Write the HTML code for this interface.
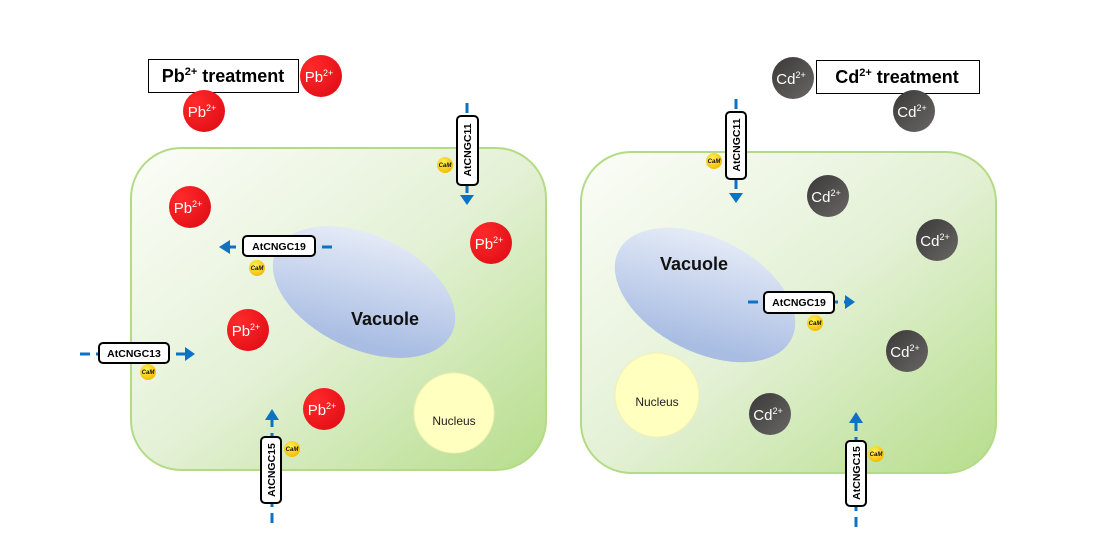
<!DOCTYPE html>
<html><head><meta charset="utf-8"><style>
html,body{margin:0;padding:0;background:#fff;}
svg{display:block;font-family:"Liberation Sans",Arial,sans-serif;}
</style></head><body>
<svg width="1100" height="560" viewBox="0 0 1100 560" xmlns="http://www.w3.org/2000/svg">
<defs>
<linearGradient id="cell" x1="0" y1="0" x2="1" y2="1">
<stop offset="0" stop-color="#fbfdf8"/><stop offset="0.5" stop-color="#e4f1d6"/><stop offset="1" stop-color="#b6dd8b"/></linearGradient>
<linearGradient id="vac" x1="0" y1="0" x2="0.4" y2="1">
<stop offset="0" stop-color="#eef2fa"/><stop offset="1" stop-color="#a9bde3"/></linearGradient>
<radialGradient id="pb" cx="0.3" cy="0.3" r="0.8">
<stop offset="0" stop-color="#ff2a2a"/><stop offset="1" stop-color="#e10f17"/></radialGradient>
<linearGradient id="cd" x1="0" y1="0" x2="1" y2="1">
<stop offset="0" stop-color="#3a3838"/><stop offset="1" stop-color="#6a6666"/></linearGradient>
<radialGradient id="cam" cx="0.4" cy="0.35" r="0.7">
<stop offset="0" stop-color="#fff25a"/><stop offset="1" stop-color="#f4b800"/></radialGradient>
</defs>

<!-- cells -->
<rect x="131" y="148" width="415" height="322" rx="50" fill="url(#cell)" stroke="#b3db86" stroke-width="2"/>
<rect x="581" y="152" width="415" height="321" rx="50" fill="url(#cell)" stroke="#b3db86" stroke-width="2"/>

<!-- vacuoles -->
<ellipse cx="364" cy="292" rx="97" ry="57" transform="rotate(25 364 292)" fill="url(#vac)"/>
<text x="385" y="325" font-size="18" font-weight="bold" text-anchor="middle" fill="#111">Vacuole</text>
<ellipse cx="705" cy="295" rx="97" ry="57" transform="rotate(27 705 295)" fill="url(#vac)"/>
<text x="694" y="270" font-size="18" font-weight="bold" text-anchor="middle" fill="#111">Vacuole</text>

<!-- nuclei -->
<circle cx="454" cy="413" r="40" fill="#ffffc0" stroke="#f2f0b0"/>
<text x="454" y="425" font-size="12" text-anchor="middle" fill="#222">Nucleus</text>
<circle cx="657" cy="395" r="42" fill="#ffffc0" stroke="#f2f0b0"/>
<text x="657" y="406" font-size="12" text-anchor="middle" fill="#222">Nucleus</text>

<!-- treatment labels -->
<rect x="148.5" y="59.5" width="150" height="33" fill="#fff" stroke="#000"/>
<text x="223" y="82" font-size="18" font-weight="bold" text-anchor="middle">Pb<tspan font-size="11" dy="-7">2+</tspan><tspan dy="7"> treatment</tspan></text>
<rect x="816.5" y="60.5" width="163" height="33" fill="#fff" stroke="#000"/>
<text x="897" y="83" font-size="18" font-weight="bold" text-anchor="middle">Cd<tspan font-size="11" dy="-7">2+</tspan><tspan dy="7">  treatment</tspan></text>

<!-- Pb ions -->
<g font-size="15" fill="#fff" text-anchor="middle">
<g><circle cx="321" cy="76" r="21" fill="url(#pb)"/><text x="319" y="82">Pb<tspan font-size="9" dy="-6">2+</tspan></text></g>
<g><circle cx="204" cy="111" r="21" fill="url(#pb)"/><text x="202" y="117">Pb<tspan font-size="9" dy="-6">2+</tspan></text></g>
<g><circle cx="190" cy="207" r="21" fill="url(#pb)"/><text x="188" y="213">Pb<tspan font-size="9" dy="-6">2+</tspan></text></g>
<g><circle cx="491" cy="243" r="21" fill="url(#pb)"/><text x="489" y="249">Pb<tspan font-size="9" dy="-6">2+</tspan></text></g>
<g><circle cx="248" cy="330" r="21" fill="url(#pb)"/><text x="246" y="336">Pb<tspan font-size="9" dy="-6">2+</tspan></text></g>
<g><circle cx="324" cy="409" r="21" fill="url(#pb)"/><text x="322" y="415">Pb<tspan font-size="9" dy="-6">2+</tspan></text></g>
</g>
<!-- Cd ions -->
<g font-size="15" fill="#fff" text-anchor="middle">
<g><circle cx="793" cy="78" r="21" fill="url(#cd)"/><text x="791" y="84">Cd<tspan font-size="9" dy="-6">2+</tspan></text></g>
<g><circle cx="914" cy="111" r="21" fill="url(#cd)"/><text x="912" y="117">Cd<tspan font-size="9" dy="-6">2+</tspan></text></g>
<g><circle cx="828" cy="196" r="21" fill="url(#cd)"/><text x="826" y="202">Cd<tspan font-size="9" dy="-6">2+</tspan></text></g>
<g><circle cx="937" cy="240" r="21" fill="url(#cd)"/><text x="935" y="246">Cd<tspan font-size="9" dy="-6">2+</tspan></text></g>
<g><circle cx="907" cy="351" r="21" fill="url(#cd)"/><text x="905" y="357">Cd<tspan font-size="9" dy="-6">2+</tspan></text></g>
<g><circle cx="770" cy="414" r="21" fill="url(#cd)"/><text x="768" y="420">Cd<tspan font-size="9" dy="-6">2+</tspan></text></g>
</g>

<!-- channels: dashed lines -->
<g stroke="#0b72c4" stroke-width="3" stroke-dasharray="10,6" fill="none">
<line x1="467" y1="103" x2="467" y2="195"/>
<line x1="332" y1="247" x2="230" y2="247"/>
<line x1="80" y1="354" x2="185" y2="354"/>
<line x1="272" y1="523" x2="272" y2="420"/>
<line x1="736" y1="99" x2="736" y2="193"/>
<line x1="748" y1="302" x2="845" y2="302"/>
<line x1="856" y1="527" x2="856" y2="423"/>
</g>
<g fill="#0b72c4">
<polygon points="460,195 474,195 467,205"/>
<polygon points="230,240 230,254 219,247"/>
<polygon points="185,347 185,361 195,354"/>
<polygon points="265,420 279,420 272,409"/>
<polygon points="729,193 743,193 736,203"/>
<polygon points="845,295 845,309 855,302"/>
<polygon points="849,423 863,423 856,412"/>
</g>

<!-- channel boxes -->
<g fill="#fff" stroke="#000" stroke-width="2">
<rect x="457" y="116" width="21" height="69" rx="4"/>
<rect x="243" y="236" width="72" height="20" rx="4"/>
<rect x="99" y="343" width="70" height="20" rx="4"/>
<rect x="261" y="437" width="20" height="66" rx="4"/>
<rect x="726" y="112" width="20" height="67" rx="4"/>
<rect x="764" y="292" width="70" height="21" rx="4"/>
<rect x="846" y="441" width="20" height="65" rx="4"/>
</g>
<g font-size="10.5" font-weight="bold" text-anchor="middle" fill="#000">
<text x="279" y="250">AtCNGC19</text>
<text x="134" y="357">AtCNGC13</text>
<text x="799" y="306">AtCNGC19</text>
<text transform="translate(471,150) rotate(-90)">AtCNGC11</text>
<text transform="translate(275,470) rotate(-90)">AtCNGC15</text>
<text transform="translate(740,145) rotate(-90)">AtCNGC11</text>
<text transform="translate(860,473) rotate(-90)">AtCNGC15</text>
</g>

<!-- CaM -->
<g font-size="6" font-weight="bold" font-style="italic" text-anchor="middle" fill="#111">
<circle cx="445" cy="165" r="8" fill="url(#cam)"/><text x="445" y="167">CaM</text>
<circle cx="257" cy="268" r="8" fill="url(#cam)"/><text x="257" y="270">CaM</text>
<circle cx="148" cy="372" r="8" fill="url(#cam)"/><text x="148" y="374">CaM</text>
<circle cx="292" cy="449" r="8" fill="url(#cam)"/><text x="292" y="451">CaM</text>
<circle cx="714" cy="161" r="8" fill="url(#cam)"/><text x="714" y="163">CaM</text>
<circle cx="815" cy="323" r="8" fill="url(#cam)"/><text x="815" y="325">CaM</text>
<circle cx="876" cy="454" r="8" fill="url(#cam)"/><text x="876" y="456">CaM</text>
</g>
</svg>
</body></html>
